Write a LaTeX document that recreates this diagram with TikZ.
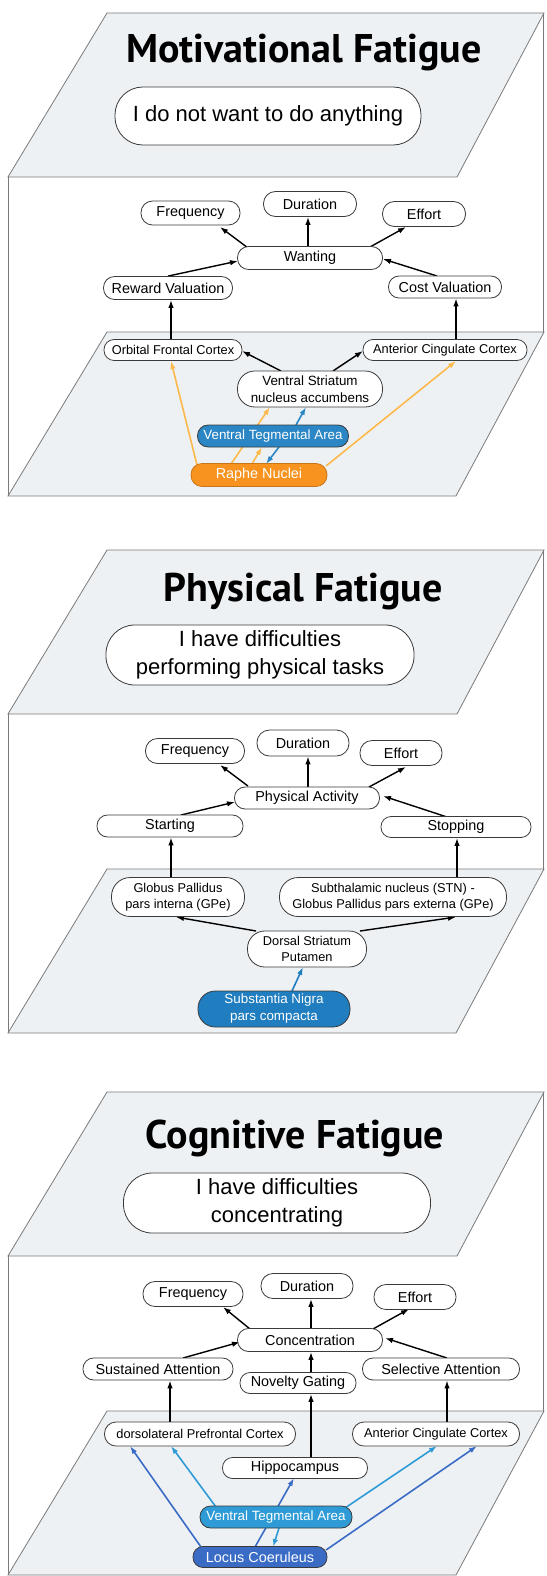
\documentclass[tikz,border=0pt]{standalone}
\usepackage{fontspec}
\setmainfont{Liberation Sans}
\newfontfamily\titlefont{PT Sans}
\usetikzlibrary{arrows.meta,calc}
\definecolor{planefill}{HTML}{EEF1F4}
\definecolor{planeline}{HTML}{7A7A7A}
\definecolor{nodeline}{HTML}{3A3A3A}
\definecolor{vtablue}{HTML}{2A86C4}
\definecolor{snblue}{HTML}{1F7DC0}
\definecolor{vtalight}{HTML}{2E9BD6}
\definecolor{lcblue}{HTML}{3A6CC6}
\definecolor{raphe}{HTML}{F7931E}
\definecolor{oarrow}{HTML}{FDB94A}
\pgfdeclarelayer{back}
\pgfdeclarelayer{mid}
\pgfsetlayers{back,mid,main}
\tikzset{
  plane/.style={draw=planeline, fill=planefill, line width=0.8pt},
  wall/.style={draw=planeline, line width=0.8pt},
  nd/.style n args={2}{draw=nodeline, line width=0.8pt, fill=white, text=black,
     minimum width=#1, minimum height=#2, inner sep=0pt, align=center,
     rounded corners=0.48*#2},
  t13/.style={font=\fontsize{12.8}{16.5}\selectfont},
  t135/.style={font=\fontsize{13.4}{17}\selectfont},
  t14/.style={font=\fontsize{14.4}{17}\selectfont},
  ovaltext/.style={font=\fontsize{22}{28}\selectfont},
  titletext/.style={font=\titlefont\bfseries\fontsize{40}{48}\selectfont, anchor=base, inner sep=0pt},
  arr/.style={-{Latex[length=8pt,width=5.5pt]}, line width=1.4pt, black},
  oarr/.style={-{Latex[length=8pt,width=5.5pt]}, line width=1.6pt, oarrow},
  barr/.style={-{Latex[length=8pt,width=5.5pt]}, line width=1.6pt, vtablue},
  lbarr/.style={-{Latex[length=8pt,width=5.5pt]}, line width=1.6pt, vtalight},
  dbarr/.style={-{Latex[length=8pt,width=5.5pt]}, line width=1.6pt, lcblue},
}
\newcommand\drawpanel[1]{%
  \begin{scope}[shift={(0,#1)}]
    \filldraw[plane] (107,13) -- (544,13) -- (457,177) -- (8,177) -- cycle;
    \draw[wall] (8,177) -- (8,496);
    \draw[wall] (543,13) -- (543,332);
    \filldraw[plane] (107,332) -- (544,332) -- (456,496) -- (8,496) -- cycle;
  \end{scope}}
\begin{document}
\begin{tikzpicture}[x=1pt,y=-1pt]
\useasboundingbox (0,0) rectangle (546,1576);
\begin{pgfonlayer}{back}
  \fill[white] (0,0) rectangle (546,1576);
  \drawpanel{0}
  \drawpanel{537}
  \drawpanel{1079}
\end{pgfonlayer}

% ---------------- Panel 1 ----------------
\node[titletext] (title1) at (304,63) {Motivational Fatigue};
\node[nd={306pt}{58pt}, ovaltext] (oval1) at (268,116) {I do not want to do anything};
\node[nd={99pt}{24pt}, t14] (freq1) at (190.5,213) {Frequency};
\node[nd={93pt}{25pt}, t14] (dur1) at (310,204) {Duration};
\node[nd={83pt}{25pt}, t14] (eff1) at (424,214) {Effort};
\node[nd={145pt}{23pt}, t14] (want1) at (310,258) {Wanting};
\node[nd={129pt}{23pt}, t14] (rew1) at (168,288) {Reward Valuation};
\node[nd={113pt}{22pt}, t14] (cost1) at (445,287) {Cost Valuation};
\node[nd={138pt}{21pt}, t13] (ofc1) at (173,350) {Orbital Frontal Cortex};
\node[nd={164pt}{21pt}, t13] (acc1) at (445,350) {Anterior Cingulate Cortex};
\node[nd={145pt}{36pt}, t135] (vs1) at (310,389) {Ventral Striatum\\nucleus accumbens};
\node[nd={151pt}{22pt}, t135, fill=vtablue, text=white] (vta1) at (273,436) {Ventral Tegmental Area};
\node[nd={136pt}{23pt}, t14, fill=raphe, text=white, draw=raphe!80!black] (raphe1) at (259,475) {Raphe Nuclei};

\begin{pgfonlayer}{mid}
\draw[arr] ($(want1)+(-62,-10)$) -- ($(freq1)+(29.5,14)$);
\draw[arr] ($(want1.north)+(-2,0)$) -- ($(dur1.south)+(-2,0)$);
\draw[arr] ($(want1)+(60,-11)$) -- ($(eff1)+(-18,13)$);
\draw[arr] (rew1.north) -- ($(want1)+(-72,3)$);
\draw[arr] ($(cost1)+(-8,-11)$) -- ($(want1)+(73,1)$);
\draw[arr] ($(ofc1.north)+(-2,0)$) -- ($(rew1.south)+(3,0)$);
\draw[arr] ($(acc1.north)+(11,0)$) -- ($(cost1.south)+(11,0)$);
\draw[arr] ($(vs1)+(-29,-18)$) -- ($(ofc1)+(69,1)$);
\draw[arr] ($(vs1)+(23,-18)$) -- ($(acc1)+(-82,1)$);
\draw[oarr] ($(raphe1)+(-62,-10)$) -- ($(ofc1)+(-2,11)$);
\draw[oarr] ($(raphe1)+(67,-9)$) -- ($(acc1)+(11,11)$);
\draw[oarr] ($(raphe1)+(-28,-11)$) -- ($(vs1)+(-40,18)$);
\draw[oarr] ($(raphe1)+(-7,-11)$) -- ($(vta1)+(-11,11)$);
\draw[barr] ($(vta1)+(6,11)$) -- ($(raphe1)+(7,-11)$);
\draw[barr] ($(vta1)+(23,-11)$) -- ($(vs1)+(-4,18)$);
\end{pgfonlayer}

% ---------------- Panel 2 ----------------
\node[titletext] (title2) at (303,601) {Physical Fatigue};
\node[nd={308pt}{60pt}, ovaltext] (oval2) at (260,655) {I have difficulties\\performing physical tasks};
\node[nd={99pt}{25pt}, t14] (freq2) at (195,751) {Frequency};
\node[nd={92pt}{26pt}, t14] (dur2) at (303,743) {Duration};
\node[nd={82pt}{25pt}, t14] (eff2) at (401,753) {Effort};
\node[nd={145pt}{22pt}, t14] (pa2) at (307,798) {Physical Activity};
\node[nd={146pt}{22pt}, t14] (start2) at (170,826) {Starting};
\node[nd={150pt}{21pt}, t14] (stop2) at (456,827) {Stopping};
\node[nd={133pt}{39pt}, t13] (gpi2) at (178,897) {Globus Pallidus\\pars interna (GPe)};
\node[nd={227pt}{39pt}, t13] (stn2) at (393,897) {Subthalamic nucleus (STN) -\\Globus Pallidus pars externa (GPe)};
\node[nd={119pt}{36pt}, t13] (ds2) at (307,949) {Dorsal Striatum\\Putamen};
\node[nd={152pt}{36pt}, t135, fill=snblue, text=white] (sn2) at (274,1009) {Substantia Nigra\\pars compacta};

\begin{pgfonlayer}{mid}
\draw[arr] ($(pa2)+(-59,-12)$) -- ($(freq2)+(25,14)$);
\draw[arr] ($(pa2.north)+(1,0)$) -- ($(dur2.south)+(5,0)$);
\draw[arr] ($(pa2)+(62,-11)$) -- ($(eff2)+(5,14)$);
\draw[arr] ($(start2)+(11,-11)$) -- ($(pa2)+(-72,4)$);
\draw[arr] ($(stop2)+(-9,-10)$) -- ($(pa2)+(76,-2)$);
\draw[arr] ($(gpi2.north)+(-7,0)$) -- ($(start2.south)+(1,0)$);
\draw[arr] ($(stn2.north)+(64,0)$) -- ($(stop2.south)+(1,0)$);
\draw[arr] ($(ds2)+(-51,-18)$) -- ($(gpi2)+(-2,20)$);
\draw[arr] ($(ds2)+(53,-18)$) -- ($(stn2)+(63,20)$);
\draw[barr, snblue] ($(sn2)+(18,-18)$) -- ($(ds2)+(-4,18)$);
\end{pgfonlayer}

% ---------------- Panel 3 ----------------
\node[titletext] (title3) at (295,1148) {Cognitive Fatigue};
\node[nd={307pt}{60pt}, ovaltext] (oval3) at (277,1203) {I have difficulties\\concentrating};
\node[nd={100pt}{25pt}, t14] (freq3) at (193,1294) {Frequency};
\node[nd={92pt}{25pt}, t14] (dur3) at (307,1286) {Duration};
\node[nd={82pt}{25pt}, t14] (eff3) at (415,1297) {Effort};
\node[nd={145pt}{23pt}, t14] (conc3) at (310,1340) {Concentration};
\node[nd={150pt}{22pt}, t14] (sust3) at (158,1369) {Sustained Attention};
\node[nd={116pt}{21pt}, t14] (nov3) at (298,1383) {Novelty Gating};
\node[nd={157pt}{22pt}, t14] (sel3) at (441,1369) {Selective Attention};
\node[nd={191pt}{24pt}, t13] (dlpfc3) at (200,1434) {dorsolateral Prefrontal Cortex};
\node[nd={167pt}{24pt}, t13] (acc3) at (436,1434) {Anterior Cingulate Cortex};
\node[nd={145pt}{21pt}, t14] (hip3) at (295,1468) {Hippocampus};
\node[nd={152pt}{22pt}, t135, fill=vtalight, text=white] (vta3) at (276,1517) {Ventral Tegmental Area};
\node[nd={134pt}{21pt}, t14, fill=lcblue, text=white] (lc3) at (260,1557) {Locus Coeruleus};

\begin{pgfonlayer}{mid}
\draw[arr] ($(conc3)+(-60,-11)$) -- ($(freq3)+(30,13)$);
\draw[arr] ($(conc3.north)+(1,0)$) -- ($(dur3.south)+(4,0)$);
\draw[arr] ($(conc3)+(63,-11)$) -- ($(eff3)+(-6,12)$);
\draw[arr] ($(sust3)+(25,-11)$) -- ($(conc3)+(-70,2)$);
\draw[arr] ($(sel3)+(6,-11)$) -- ($(conc3)+(75,-2)$);
\draw[arr] ($(nov3.north)+(13,0)$) -- ($(conc3.south)+(1,0)$);
\draw[arr] ($(dlpfc3.north)+(-30,0)$) -- ($(sust3.south)+(12,0)$);
\draw[arr] ($(acc3.north)+(11,0)$) -- ($(sel3.south)+(6,0)$);
\draw[arr] ($(hip3.north)+(16,0)$) -- ($(nov3.south)+(13,0)$);
\draw[dbarr] ($(lc3)+(-59,-10)$) -- ($(dlpfc3)+(-70,12)$);
\draw[lbarr] ($(vta3)+(-60,-10)$) -- ($(dlpfc3)+(-29,12)$);
\draw[dbarr] ($(lc3)+(-5,-10)$) -- ($(hip3)+(-1,10)$);
\draw[lbarr] ($(vta3)+(69,-9)$) -- ($(acc3)+(1,12)$);
\draw[dbarr] ($(lc3)+(66,-7)$) -- ($(acc3)+(41,12)$);
\draw[lbarr] ($(vta3)+(3,11)$) -- ($(lc3)+(13,-10)$);
\end{pgfonlayer}
\end{tikzpicture}
\end{document}
